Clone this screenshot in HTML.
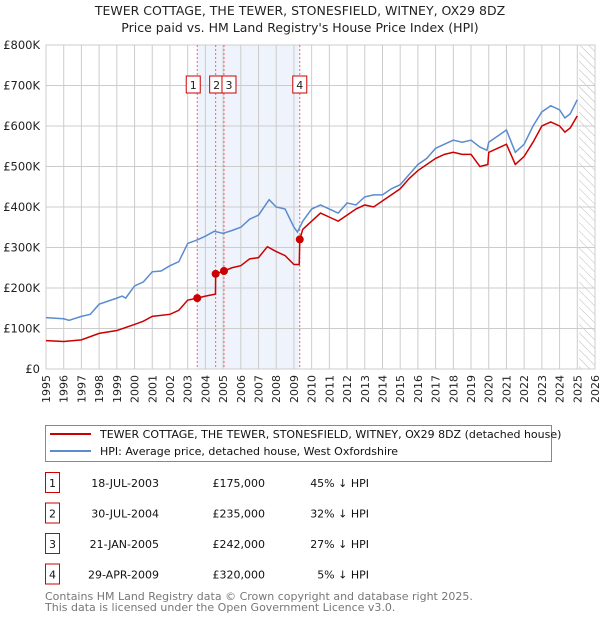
<!DOCTYPE html>
<html><head><meta charset="utf-8"><style>
body{margin:0;background:#fff;font-family:"Liberation Sans","DejaVu Sans",sans-serif;}
svg text{font-family:"DejaVu Sans","Liberation Sans",sans-serif;}
</style></head><body>
<svg id="c" width="600" height="620" xmlns="http://www.w3.org/2000/svg">
<text x="300" y="15" text-anchor="middle" font-size="12.5" fill="#222">TEWER COTTAGE, THE TEWER, STONESFIELD, WITNEY, OX29 8DZ</text>
<text x="300" y="32" text-anchor="middle" font-size="12.5" fill="#222">Price paid vs. HM Land Registry's House Price Index (HPI)</text>
<g id="plot"></g>
<rect x="45.5" y="425.5" width="506" height="36" fill="#fff" stroke="#888"/>
<line x1="50" y1="434" x2="91" y2="434" stroke="#cc0000" stroke-width="2"/>
<text x="100" y="438" font-size="11" fill="#111">TEWER COTTAGE, THE TEWER, STONESFIELD, WITNEY, OX29 8DZ (detached house)</text>
<line x1="50" y1="451" x2="91" y2="451" stroke="#5b8ccf" stroke-width="2"/>
<text x="100" y="455" font-size="11" fill="#111">HPI: Average price, detached house, West Oxfordshire</text>
<g id="tbl"></g>
<text x="45" y="600" font-size="11" fill="#777">Contains HM Land Registry data © Crown copyright and database right 2025.</text>
<text x="45" y="611" font-size="11" fill="#777">This data is licensed under the Open Government Licence v3.0.</text>
</svg>
<script>
const hpiYears=[1995,1996,1996.3,1997,1997.5,1998,1999,1999.3,1999.5,2000,2000.5,2001,2001.5,2002,2002.5,2003,2003.5,2004,2004.5,2005,2005.5,2006,2006.5,2007,2007.6,2008,2008.5,2009,2009.2,2009.5,2010,2010.5,2011,2011.5,2012,2012.5,2013,2013.5,2014,2014.5,2015,2015.5,2016,2016.5,2017,2017.5,2018,2018.5,2019,2019.5,2019.9,2020,2020.5,2021,2021.5,2022,2022.5,2023,2023.5,2024,2024.3,2024.6,2025];
const hpiValues=[127,124,120,130,135,160,175,180,175,205,215,240,242,255,265,310,318,328,340,335,342,350,370,380,418,400,395,350,338,365,395,405,395,385,410,405,425,430,430,445,455,480,505,520,545,555,565,560,565,548,540,560,575,590,535,555,600,635,650,640,620,630,665];
const ppYears=[1995,1996,1997,1998,1999,2000,2000.5,2001,2002,2002.5,2003,2003.54,2004,2004.57,2004.58,2005.05,2005.5,2006,2006.5,2007,2007.5,2008,2008.5,2009,2009.3,2009.33,2009.5,2010,2010.5,2011,2011.5,2012,2012.5,2013,2013.5,2014,2014.5,2015,2015.5,2016,2016.5,2017,2017.5,2018,2018.5,2019,2019.5,2019.95,2020,2020.5,2021,2021.5,2022,2022.5,2023,2023.5,2024,2024.3,2024.6,2025];
const ppValues=[70,68,72,88,95,110,118,130,135,145,170,175,180,185,235,242,250,255,272,275,302,290,280,258,258,320,345,365,385,375,365,380,395,405,400,415,430,445,470,490,505,520,530,535,530,530,500,505,535,545,555,505,525,560,600,610,600,585,595,625];
const saleLabels=["1","2","3","4"];
const saleYears=[2003.54,2004.58,2005.05,2009.33];
const saleValues=[175,235,242,320];
const saleDates=["18-JUL-2003","30-JUL-2004","21-JAN-2005","29-APR-2009"];
const salePrices=["£175,000","£235,000","£242,000","£320,000"];
const saleDiffs=["45% ↓ HPI","32% ↓ HPI","27% ↓ HPI","5% ↓ HPI"];
const yTicks=[0,100,200,300,400,500,600,700,800];
const yTickLabels=["£0","£100K","£200K","£300K","£400K","£500K","£600K","£700K","£800K"];
const L=46,R=595,T=45,B=369;
const X=y=>L+(y-1995)/(2026-1995)*(R-L);
const Y=v=>B-v/800*(B-T);
const NS="http://www.w3.org/2000/svg";
const g=document.getElementById('plot');
function mk(t,a,p){const e=document.createElementNS(NS,t);for(const k in a)e.setAttribute(k,a[k]);(p||g).appendChild(e);return e;}
let e;
e=mk('rect',{x:X(saleYears[0]),y:T,width:X(saleYears[3])-X(saleYears[0]),height:B-T,fill:'#eef3fc'});


const pat=mk('pattern',{id:'h',width:6,height:6,patternUnits:'userSpaceOnUse',patternTransform:'rotate(-45)'},mk('defs',{}));
mk('line',{x1:0,y1:0,x2:0,y2:6,stroke:'#bbb','stroke-width':1},pat);
e=mk('rect',{x:X(2025.1),y:T,width:R-X(2025.1),height:B-T,fill:'url(#h)'});


for(let yr=1995;yr<=2026;yr++){
 e=mk('line',{x1:X(yr),x2:X(yr),y1:T,y2:B,stroke:'#ccc','stroke-width':1});
 
 
 e=mk('text',{x:0,y:0,'font-size':11,fill:'#222','text-anchor':'end',transform:`translate(${X(yr)+4},${B+6}) rotate(-90)`});
 e.textContent=yr;
 
 
}
yTicks.forEach((v,i)=>{
 e=mk('line',{x1:L,x2:R,y1:Y(v),y2:Y(v),stroke:'#ccc','stroke-width':1});
 
 
 e=mk('text',{x:L-6,y:Y(v)+4,'font-size':11.5,fill:'#222','text-anchor':'end'});
 e.textContent=yTickLabels[i];
 
 
});
e=mk('rect',{x:L,y:T,width:R-L,height:B-T,fill:'none',stroke:'#ccc'});


saleYears.forEach((yr,i)=>{
 e=mk('line',{x1:X(yr),x2:X(yr),y1:T,y2:B,stroke:'#e66','stroke-width':1,'stroke-dasharray':'2,2'});
 
 
});
e=mk('polyline',{points:hpiYears.map((y,i)=>X(y)+','+Y(hpiValues[i])).join(' '),fill:'none',stroke:'#5b8ccf','stroke-width':1.5});


e=mk('polyline',{points:ppYears.map((y,i)=>X(y)+','+Y(ppValues[i])).join(' '),fill:'none',stroke:'#cc0000','stroke-width':1.5});


const boxOff=[-4,1,5,0];
saleYears.forEach((yr,i)=>{
 e=mk('circle',{cx:X(yr),cy:Y(saleValues[i]),r:4,fill:'#cc0000'});
 
 
 const bx=X(yr)+boxOff[i]-7;
 e=mk('rect',{x:bx,y:76,width:14,height:17,fill:'#fff',stroke:'#cc0000'});
 
 
 e=mk('text',{x:bx+7,y:89,'font-size':11,'text-anchor':'middle',fill:'#222'});
 e.textContent=saleLabels[i];
 
 
});
const tb=document.getElementById('tbl');
saleLabels.forEach((l,i)=>{
 const cy=483+i*30.5;
 e=mk('rect',{x:45.5,y:cy-10.5,width:14,height:20,fill:'#fff',stroke:'#cc0000'},tb);
 
 
 const cols=[[52.5,l,'middle'],[159,saleDates[i],'end'],[265,salePrices[i],'end'],[369,saleDiffs[i],'end']];
 cols.forEach(c=>{
  e=mk('text',{x:c[0],y:cy+4,'font-size':11,'text-anchor':c[2],fill:'#111'},tb);
  e.textContent=c[1];
  
  
 });
});
</script>
</body></html>
